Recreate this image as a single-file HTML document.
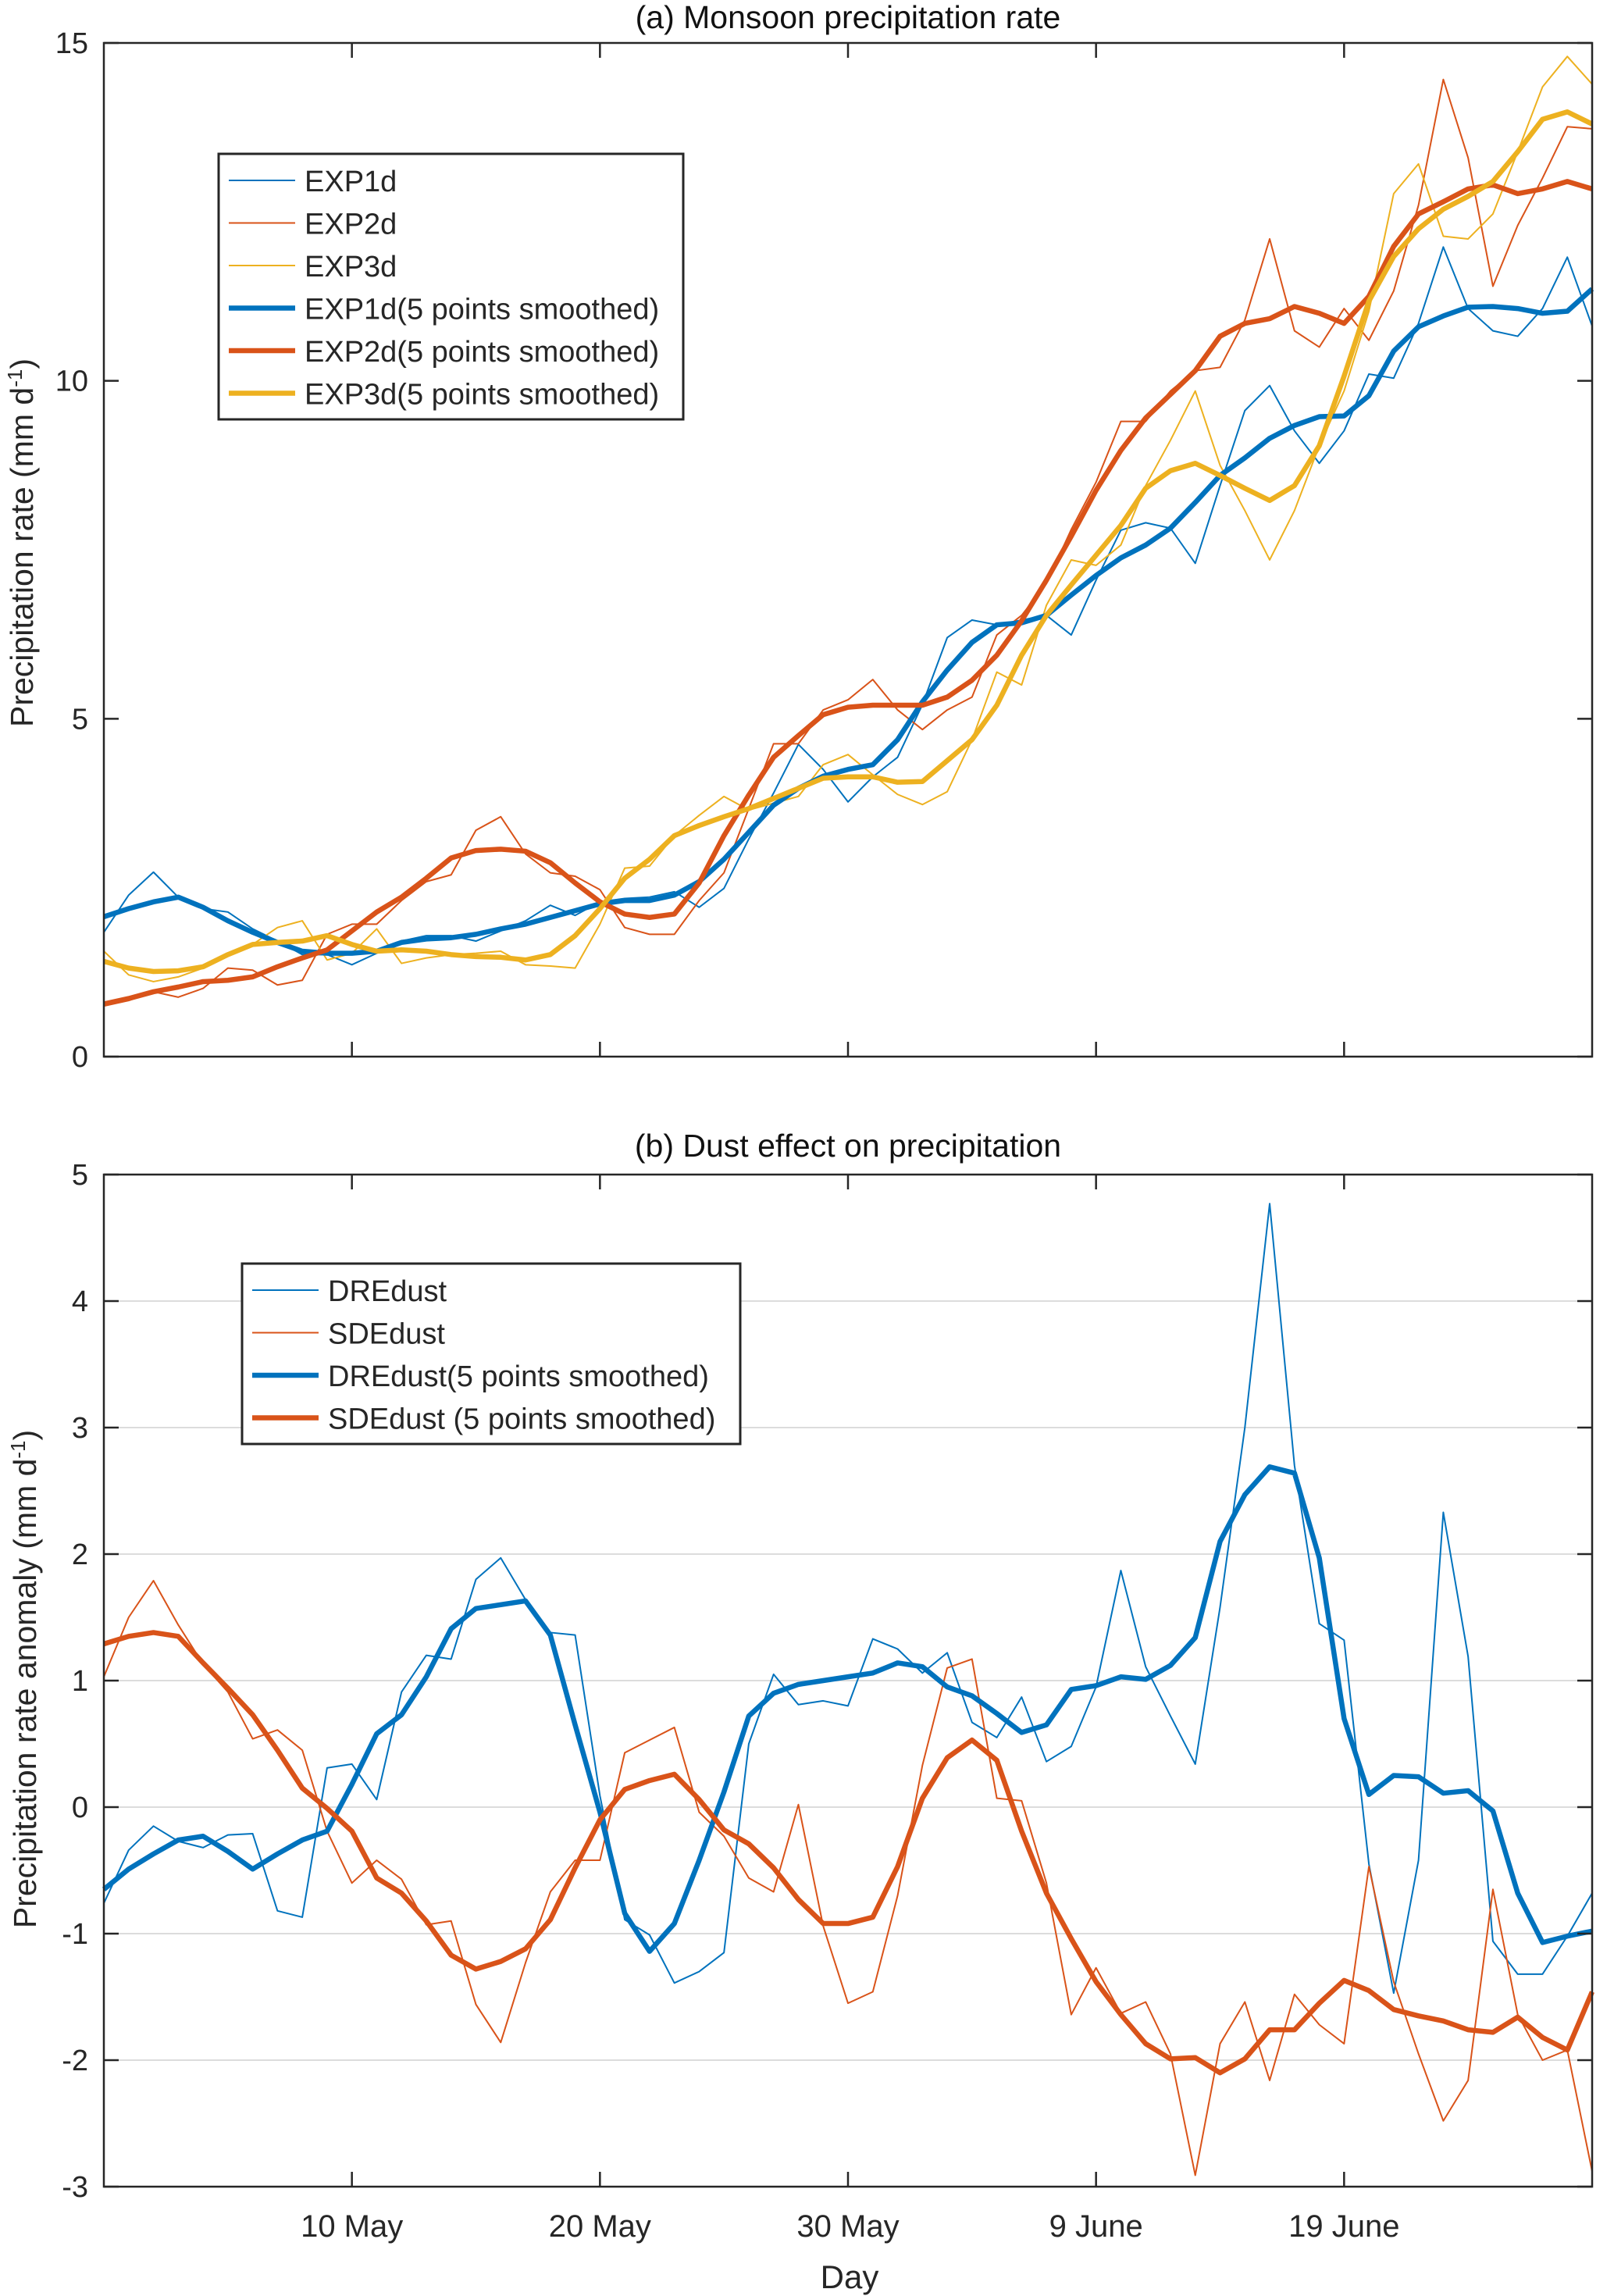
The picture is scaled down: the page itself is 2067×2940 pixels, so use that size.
<!DOCTYPE html>
<html><head><meta charset="utf-8"><style>
html,body{margin:0;padding:0;background:#fff;}
svg{display:block;font-family:"Liberation Sans",sans-serif;}
</style></head><body>
<svg id="chart" width="2067" height="2940" viewBox="0 0 2067 2940" xmlns="http://www.w3.org/2000/svg"></svg>
<script>
const days = Array.from({length:61},(_,i)=>i);
const xTickDays = [10,20,30,40,50];
const xTickLabels = ["10 May","20 May","30 May","9 June","19 June"];
const aTicks = [0,5,10,15];
const bTicks = [-3,-2,-1,0,1,2,3,4,5];

const exp1 = [1.84,2.39,2.73,2.36,2.19,2.14,1.89,1.71,1.51,1.51,1.36,1.53,1.71,1.79,1.79,1.71,1.86,2.01,2.24,2.09,2.29,2.34,2.36,2.44,2.21,2.49,3.22,3.9,4.62,4.25,3.77,4.14,4.43,5.21,6.2,6.46,6.39,6.46,6.53,6.24,7.05,7.79,7.9,7.82,7.3,8.45,9.56,9.93,9.26,8.78,9.26,10.1,10.04,10.85,11.98,11.07,10.74,10.66,11.07,11.83,10.81];
const exp2 = [0.75,0.83,0.96,0.88,1.01,1.31,1.28,1.06,1.13,1.81,1.96,1.96,2.31,2.59,2.69,3.35,3.55,3.0,2.72,2.67,2.47,1.91,1.81,1.81,2.31,2.72,3.67,4.63,4.63,5.13,5.28,5.58,5.13,4.84,5.13,5.32,6.24,6.53,7.0,7.8,8.5,9.4,9.4,9.85,10.15,10.2,10.9,12.1,10.74,10.5,11.07,10.6,11.33,12.6,14.46,13.3,11.4,12.3,13.0,13.76,13.73];
const exp3 = [1.56,1.21,1.11,1.18,1.31,1.53,1.66,1.91,2.01,1.43,1.53,1.89,1.38,1.46,1.51,1.53,1.56,1.36,1.34,1.31,1.96,2.79,2.82,3.27,3.57,3.85,3.65,3.75,3.85,4.32,4.47,4.17,3.88,3.73,3.92,4.69,5.69,5.5,6.68,7.35,7.27,7.57,8.45,9.12,9.85,8.75,8.08,7.35,8.08,9.04,9.85,11.03,12.77,13.21,12.14,12.1,12.47,13.39,14.35,14.8,14.39];
const exp1s = [2.07,2.19,2.29,2.36,2.21,2.01,1.84,1.69,1.56,1.53,1.53,1.56,1.69,1.74,1.76,1.81,1.89,1.96,2.06,2.16,2.26,2.31,2.31,2.39,2.59,2.92,3.32,3.72,3.97,4.15,4.25,4.32,4.69,5.25,5.72,6.13,6.39,6.42,6.53,6.83,7.12,7.38,7.57,7.82,8.2,8.6,8.86,9.15,9.34,9.47,9.48,9.78,10.44,10.8,10.96,11.09,11.1,11.07,11.0,11.03,11.36];
const exp2s = [0.78,0.86,0.96,1.03,1.11,1.13,1.18,1.33,1.46,1.58,1.86,2.14,2.36,2.64,2.94,3.05,3.07,3.04,2.87,2.57,2.29,2.11,2.06,2.11,2.57,3.27,3.87,4.43,4.75,5.06,5.17,5.2,5.2,5.2,5.32,5.57,5.94,6.45,7.05,7.7,8.38,8.97,9.45,9.8,10.15,10.66,10.85,10.92,11.1,11.0,10.85,11.25,11.99,12.47,12.65,12.84,12.9,12.77,12.84,12.95,12.84];
const exp3s = [1.41,1.31,1.26,1.27,1.33,1.51,1.66,1.69,1.71,1.79,1.66,1.56,1.58,1.56,1.51,1.48,1.47,1.43,1.51,1.79,2.19,2.64,2.92,3.27,3.42,3.55,3.67,3.82,3.97,4.12,4.14,4.14,4.06,4.07,4.38,4.69,5.2,5.94,6.53,6.98,7.42,7.86,8.41,8.67,8.78,8.6,8.41,8.23,8.45,9.04,10.07,11.18,11.84,12.25,12.54,12.73,12.95,13.39,13.87,13.98,13.8];

const dre = [-0.76,-0.34,-0.15,-0.27,-0.32,-0.22,-0.21,-0.82,-0.87,0.31,0.34,0.06,0.91,1.2,1.17,1.8,1.97,1.64,1.38,1.36,0.09,-0.89,-1.01,-1.39,-1.3,-1.15,0.5,1.05,0.81,0.84,0.8,1.33,1.25,1.06,1.22,0.67,0.55,0.87,0.36,0.48,0.95,1.87,1.11,0.72,0.34,1.58,3.0,4.77,2.7,1.45,1.32,-0.45,-1.47,-0.42,2.33,1.19,-1.06,-1.32,-1.32,-1.02,-0.68];
const sde = [1.03,1.5,1.79,1.44,1.13,0.91,0.54,0.61,0.45,-0.19,-0.6,-0.42,-0.57,-0.93,-0.9,-1.56,-1.86,-1.23,-0.67,-0.42,-0.42,0.43,0.53,0.63,-0.04,-0.23,-0.56,-0.67,0.02,-0.94,-1.55,-1.46,-0.7,0.33,1.1,1.17,0.07,0.05,-0.6,-1.64,-1.27,-1.63,-1.54,-1.95,-2.91,-1.87,-1.54,-2.16,-1.48,-1.72,-1.87,-0.47,-1.38,-1.95,-2.48,-2.16,-0.65,-1.64,-2.0,-1.92,-2.88];
const dres = [-0.65,-0.49,-0.37,-0.26,-0.23,-0.35,-0.49,-0.37,-0.26,-0.19,0.18,0.58,0.73,1.03,1.41,1.57,1.6,1.63,1.36,0.65,-0.04,-0.84,-1.14,-0.92,-0.42,0.12,0.72,0.9,0.97,1.0,1.03,1.06,1.14,1.11,0.95,0.88,0.74,0.59,0.65,0.93,0.96,1.03,1.01,1.12,1.34,2.1,2.47,2.69,2.64,1.97,0.7,0.1,0.25,0.24,0.11,0.13,-0.03,-0.68,-1.07,-1.02,-0.98];
const sdes = [1.29,1.35,1.38,1.35,1.14,0.94,0.73,0.45,0.15,-0.01,-0.19,-0.56,-0.68,-0.9,-1.17,-1.28,-1.22,-1.12,-0.89,-0.48,-0.1,0.14,0.21,0.26,0.06,-0.18,-0.29,-0.48,-0.73,-0.92,-0.92,-0.87,-0.47,0.07,0.39,0.53,0.37,-0.19,-0.68,-1.04,-1.38,-1.64,-1.87,-1.99,-1.98,-2.1,-1.99,-1.76,-1.76,-1.55,-1.37,-1.45,-1.6,-1.65,-1.69,-1.76,-1.78,-1.66,-1.82,-1.92,-1.46];

const NS="http://www.w3.org/2000/svg";
const svg=document.getElementById('chart');
const X0=133,X1=2039;
const A_TOP=55,A_BOT=1353,B_TOP=1504,B_BOT=2800;
const xs=d=>X0+(X1-X0)*d/60;
const yA=v=>A_BOT-(A_BOT-A_TOP)*v/15;
const yB=v=>B_BOT-(B_BOT-B_TOP)*(v+3)/8;
const B='#0072BD',R='#D95319',Y='#EDB120';
function el(tag,attrs,parent){const e=document.createElementNS(NS,tag);for(const k in attrs)e.setAttribute(k,attrs[k]);(parent||svg).appendChild(e);return e;}
function txt(s,attrs,parent){const e=el('text',attrs,parent);e.textContent=s;return e;}

function panel(yf,ticks,grid,name){
  const g=el('g',{});
  
  
  if(grid){ticks.forEach(t=>{const l=el('line',{x1:X0,x2:X1,y1:yf(t),y2:yf(t),stroke:'#dcdcdc','stroke-width':2},g);
    
    });}
  return g;
}
function frame(g,top,bot,yf,ticks,showX){
  const r=el('rect',{x:X0,y:top,width:X1-X0,height:bot-top,fill:'none',stroke:'#262626','stroke-width':2.5},g);
  
  
  ticks.forEach(t=>{const y=yf(t);
    el('line',{x1:X0,x2:X0+19,y1:y,y2:y,stroke:'#262626','stroke-width':2.5},g);
    el('line',{x1:X1-19,x2:X1,y1:y,y2:y,stroke:'#262626','stroke-width':2.5},g);
    const tl=txt(String(t),{x:X0-20,y:y+13,'font-size':38,'text-anchor':'end',fill:'#262626'},g);
    
    
  });
  xTickDays.forEach((d,i)=>{const x=xs(d);
    el('line',{x1:x,x2:x,y1:bot,y2:bot-19,stroke:'#262626','stroke-width':2.5},g);
    el('line',{x1:x,x2:x,y1:top,y2:top+19,stroke:'#262626','stroke-width':2.5},g);
    if(showX){const tl=txt(xTickLabels[i],{x:x,y:2864,'font-size':40,'text-anchor':'middle',fill:'#262626'},g);
      
      }
  });
}
function series(g,vals,yf,color,w,name){
  const p=el('polyline',{points:vals.map((v,i)=>xs(days[i])+','+yf(v)).join(' '),fill:'none',stroke:color,'stroke-width':w,'stroke-linejoin':'round'},g);
  
  
}
function legend(g,x,y,w,h,items){
  const lg=el('g',{},g);
  
  
  el('rect',{x:x,y:y,width:w,height:h,fill:'#fff',stroke:'#262626','stroke-width':3},lg);
  items.forEach((it,i)=>{const cy=y+34+i*54.5;
    const e=el('g',{},lg);
    
    
    el('line',{x1:x+13,x2:x+98,y1:cy,y2:cy,stroke:it[1],'stroke-width':it[2]},e);
    txt(it[0],{x:x+110,y:cy+14,'font-size':38,fill:'#262626'},e);
  });
}

// Panel A
const gA=panel(yA,aTicks,false,'panel-a');
series(gA,exp1,yA,B,2,'exp1d-line');
series(gA,exp2,yA,R,2,'exp2d-line');
series(gA,exp3,yA,Y,2,'exp3d-line');
series(gA,exp1s,yA,B,6.5,'exp1d-smoothed-line');
series(gA,exp2s,yA,R,6.5,'exp2d-smoothed-line');
series(gA,exp3s,yA,Y,6.5,'exp3d-smoothed-line');
frame(gA,A_TOP,A_BOT,yA,aTicks,false);
legend(gA,280,197,595,340,[["EXP1d",B,2],["EXP2d",R,2],["EXP3d",Y,2],["EXP1d(5 points smoothed)",B,6.5],["EXP2d(5 points smoothed)",R,6.5],["EXP3d(5 points smoothed)",Y,6.5]]);
const tA=txt('(a) Monsoon precipitation rate',{x:1086,y:36,'font-size':41,'text-anchor':'middle',fill:'#111'});


const ylA=txt('Precipitation rate (mm d',{x:0,y:0,'font-size':41,'text-anchor':'middle',fill:'#262626',transform:'translate(42,695) rotate(-90)'});
const supA=el('tspan',{dy:-14,'font-size':26},ylA);supA.textContent='-1';
const clA=el('tspan',{dy:14},ylA);clA.textContent=')';



// Panel B
const gB=panel(yB,bTicks,true,'panel-b');
series(gB,dre,yB,B,2,'dredust-line');
series(gB,sde,yB,R,2,'sdedust-line');
series(gB,dres,yB,B,6.5,'dredust-smoothed-line');
series(gB,sdes,yB,R,6.5,'sdedust-smoothed-line');
frame(gB,B_TOP,B_BOT,yB,bTicks,true);
legend(gB,310,1618,638,231,[["DREdust",B,2],["SDEdust",R,2],["DREdust(5 points smoothed)",B,6.5],["SDEdust (5 points smoothed)",R,6.5]]);
const tB=txt('(b) Dust effect on precipitation',{x:1086,y:1481,'font-size':41,'text-anchor':'middle',fill:'#111'});


const ylB=txt('Precipitation rate anomaly (mm d',{x:0,y:0,'font-size':41,'text-anchor':'middle',fill:'#262626',transform:'translate(46,2150) rotate(-90)'});
const supB=el('tspan',{dy:-14,'font-size':26},ylB);supB.textContent='-1';
const clB=el('tspan',{dy:14},ylB);clB.textContent=')';


const xl=txt('Day',{x:1088,y:2930,'font-size':42,'text-anchor':'middle',fill:'#262626'});


</script>
</body></html>
